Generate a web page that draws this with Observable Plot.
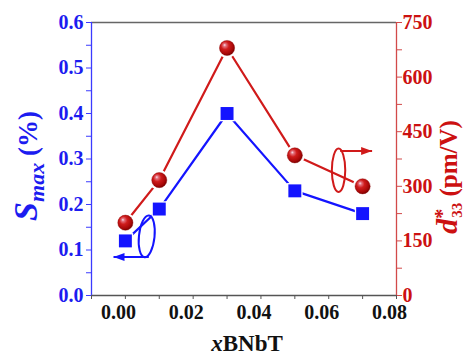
<!DOCTYPE html>
<html>
<head>
<meta charset="utf-8">
<script src="https://cdn.jsdelivr.net/npm/d3@7"></script>
<script src="https://cdn.jsdelivr.net/npm/@observablehq/plot@0.6"></script>
<style>
  html, body { margin: 0; padding: 0; background: #fff; }
</style>
</head>
<body>
<div id="chart"></div>
<script>
// ---- data ----
const xValues = [0.00, 0.01, 0.03, 0.05, 0.07];
const sMax = [0.12, 0.19, 0.40, 0.23, 0.18];        // S_max (%)
const d33 = [200, 317, 680, 385, 300];              // d*33 (pm/V)

const xTickLabels = [0.00, 0.02, 0.04, 0.06, 0.08];
const xMinorTicks = [-0.01, 0.01, 0.03, 0.05, 0.07];
const sTicks = [0.0, 0.1, 0.2, 0.3, 0.4, 0.5, 0.6];
const sMinorTicks = [0.05, 0.15, 0.25, 0.35, 0.45, 0.55];
const dTicks = [0, 150, 300, 450, 600, 750];
const dMinorTicks = [75, 225, 375, 525, 675];

// annotation anchors (data units)
const sLoop = [{x: 0.0063, s: 0.130}];
const sArrow = [{x1: 0.0069, x2: -0.0035, s: 0.0844}];
const dLoop = [{x: 0.0629, d: 344}];
const dArrow = [{x1: 0.0634, x2: 0.0728, d: 397}];

const X_MIN = -0.01, X_MAX = 0.08;
const S_MAX = 0.6, D_MAX = 750;
const toS = d => d * S_MAX / D_MAX;

const rows = xValues.map((x, i) => ({x, s: sMax[i], d: d33[i]}));

const BLUE = "#1414ff", BLUE_AX = "#3b3bff", BLUE_TXT = "#1c1cf0";
const RED = "#d01a1a", RED_AX = "#d24a4a", RED_TXT = "#cc1111";
const FONT = "'Liberation Serif', 'Times New Roman', serif";

function ellipseSymbol(rx, ry) {
  const k = 0.5523;
  return {draw(c) {
    c.moveTo(rx, 0);
    c.bezierCurveTo(rx, k * ry, k * rx, ry, 0, ry);
    c.bezierCurveTo(-k * rx, ry, -rx, k * ry, -rx, 0);
    c.bezierCurveTo(-rx, -k * ry, -k * rx, -ry, 0, -ry);
    c.bezierCurveTo(k * rx, -ry, rx, -k * ry, rx, 0);
    c.closePath();
  }};
}
function headSymbol(dir, L, W) {
  return {draw(c) {
    c.moveTo(0, 0);
    c.lineTo(-dir * L, -W / 2);
    c.lineTo(-dir * L, W / 2);
    c.closePath();
  }};
}

const chart = Plot.plot({
  width: 467,
  height: 357,
  marginLeft: 91,
  marginRight: 71,
  marginTop: 22,
  marginBottom: 62,
  style: {fontFamily: FONT, background: "#fff"},
  x: {domain: [X_MIN, X_MAX]},
  y: {domain: [0, S_MAX]},
  marks: [
    // x axis ticks & labels
    Plot.axisX({ticks: xTickLabels.concat(xMinorTicks), tickSize: 4, tickFormat: () => "", stroke: "#555", label: null}),
    Plot.axisX({ticks: xTickLabels, tickSize: 0, tickPadding: 9, dx: -7, tickFormat: d3.format(".2f"),
      fontSize: 20, fontWeight: "bold", fill: "#111", label: null}),
    // left y axis
    Plot.axisY({ticks: sTicks.concat(sMinorTicks), tickSize: 5, tickFormat: () => "", stroke: BLUE_AX, label: null}),
    Plot.axisY({ticks: sTicks, tickSize: 0, tickPadding: 8, tickFormat: d3.format(".1f"),
      fontSize: 20, fontWeight: "bold", fill: BLUE_TXT, label: null}),
    // right y axis (d33 mapped onto the S scale)
    Plot.axisY({anchor: "right", ticks: dTicks.concat(dMinorTicks).map(toS), tickSize: 5, tickFormat: () => "", stroke: RED_AX, label: null}),
    Plot.axisY({anchor: "right", ticks: dTicks.map(toS), tickSize: 0, tickPadding: 6,
      tickFormat: v => String(Math.round(v * D_MAX / S_MAX)),
      fontSize: 20, fontWeight: "bold", fill: RED_TXT, label: null}),
    // frame
    Plot.ruleY([0], {stroke: "#555", strokeWidth: 1.3}),
    Plot.ruleY([S_MAX], {stroke: "#666", strokeWidth: 1.3}),
    Plot.ruleX([X_MIN], {stroke: BLUE_AX, strokeWidth: 1.3}),
    Plot.ruleX([X_MAX], {stroke: RED_AX, strokeWidth: 1.3}),
    // series lines
    Plot.line(rows, {x: "x", y: "s", stroke: BLUE, strokeWidth: 2.2}),
    Plot.line(rows, {x: "x", y: d => toS(d.d), stroke: RED, strokeWidth: 2.2}),
    // white gaps around markers
    Plot.dot(rows, {x: "x", y: "s", symbol: "square", r: 8.8, fill: "#fff"}),
    Plot.dot(rows, {x: "x", y: d => toS(d.d), r: 10, fill: "#fff"}),
    // markers
    Plot.dot(rows, {x: "x", y: "s", symbol: "square", r: 7.3, fill: BLUE}),
    Plot.dot(rows, {x: "x", y: d => toS(d.d), r: 7.6, fill: "url(#ballGrad)", stroke: "#8a0000", strokeWidth: 0.4}),
    // annotation loops and arrows
    Plot.dot(sLoop, {x: "x", y: "s", symbol: ellipseSymbol(7.8, 21), r: 5, fill: "none", stroke: BLUE, strokeWidth: 2, rotate: 6}),
    Plot.link(sArrow, {x1: "x1", x2: "x2", y1: "s", y2: "s", stroke: BLUE, strokeWidth: 2}),
    Plot.dot(sArrow, {x: "x2", y: "s", symbol: headSymbol(-1, 11, 8), r: 5, fill: BLUE, stroke: "none"}),
    Plot.dot(dLoop, {x: "x", y: d => toS(d.d), symbol: ellipseSymbol(6.7, 21.7), r: 5, fill: "none", stroke: RED, strokeWidth: 2}),
    Plot.link(dArrow, {x1: "x1", x2: "x2", y1: d => toS(d.d), y2: d => toS(d.d), stroke: RED, strokeWidth: 2}),
    Plot.dot(dArrow, {x: "x2", y: d => toS(d.d), symbol: headSymbol(1, 11, 8), r: 5, fill: RED, stroke: "none"})
  ]
});

const svg = d3.select(chart);
svg.insert("defs", ":first-child").html(
  '<radialGradient id="ballGrad" cx="0.42" cy="0.4" r="0.62" fx="0.33" fy="0.3">' +
  '<stop offset="0" stop-color="#f6e2ee"/>' +
  '<stop offset="0.16" stop-color="#e3707c"/>' +
  '<stop offset="0.42" stop-color="#cf1c1c"/>' +
  '<stop offset="0.8" stop-color="#a80808"/>' +
  '<stop offset="1" stop-color="#760000"/>' +
  '</radialGradient>'
);

// left title: S_max (%)
const lt = svg.append("text")
  .attr("transform", "translate(37,166) rotate(-90)")
  .attr("text-anchor", "middle").attr("fill", BLUE_TXT)
  .attr("font-family", FONT).attr("font-weight", "bold");
lt.append("tspan").attr("font-style", "italic").attr("font-size", 34).text("S");
lt.append("tspan").attr("font-style", "italic").attr("font-size", 22).attr("dy", 7).text("max");
lt.append("tspan").attr("font-size", 27).attr("dy", -7).text(" (%)");

// right title: d*33 (pm/V)
const rt = svg.append("text")
  .attr("transform", "translate(457,177) rotate(-90)")
  .attr("text-anchor", "middle").attr("fill", RED_TXT)
  .attr("font-family", FONT).attr("font-weight", "bold");
rt.append("tspan").attr("font-style", "italic").attr("font-size", 30).text("d");
rt.append("tspan").attr("font-size", 20).attr("dy", -8).text("*");
rt.append("tspan").attr("font-size", 15).attr("dx", -9).attr("dy", 13).text("33");
rt.append("tspan").attr("font-size", 25).attr("dy", -5).text(" (pm/V)");

// x title: xBNbT
const xt = svg.append("text")
  .attr("x", 247).attr("y", 351)
  .attr("text-anchor", "middle").attr("fill", "#111")
  .attr("font-family", FONT).attr("font-weight", "bold").attr("font-size", 23);
xt.append("tspan").attr("font-style", "italic").text("x");
xt.append("tspan").text("BNbT");

document.getElementById("chart").appendChild(chart);
</script>
</body>
</html>
